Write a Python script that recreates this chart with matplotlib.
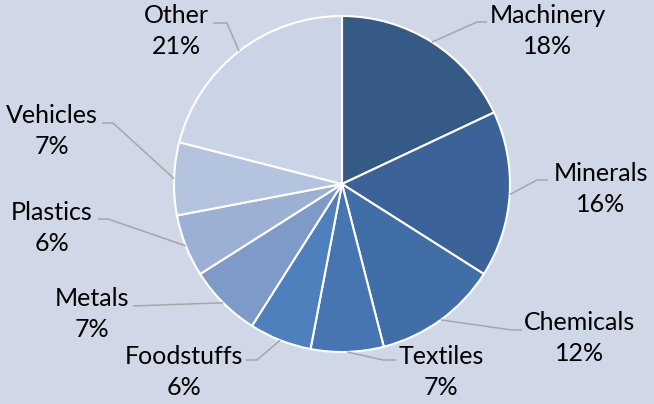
import numpy as np
import matplotlib.pyplot as plt

# export shares by product group
categories = ['Machinery', 'Minerals', 'Chemicals', 'Textiles', 'Foodstuffs',
              'Metals', 'Plastics', 'Vehicles', 'Other']
shares = [18, 16, 12, 7, 6, 7, 6, 7, 21]

colors = ['#345A85', '#3B639A', '#416EA6', '#4775B1', '#4E80BD',
          '#7D9AC8', '#9CB0D4', '#B4C3DE', '#CBD4E6']
bg = '#D0D8E8'

W, H = 654, 404
CX, CY, R = 342, 184, 168


def px(x, y):
    # pixel position -> data coords (pie radius 1, centred at origin)
    return (x - CX) / R, (CY - y) / R


# label block centres and leader elbow/end points, in pixels
label_pos = [(548, 31), (601, 189), (580, 338), (441, 372), (184, 372),
             (92, 314), (52, 228), (52, 131), (176, 31)]
leaders = [
    [(477, 22), (487, 22)],
    [(537, 180), (548, 180)],
    [(512, 330), (522, 330)],
    [(383, 360), (396, 360)],
    [(257, 360), (246, 360)],
    [(133, 306)],
    [(108, 219), (98, 219)],
    [(113, 123), (102, 123)],
    [(227, 23), (213, 23)],
]

fig = plt.figure(figsize=(W / 100, H / 100), dpi=100)
fig.patch.set_facecolor(bg)
ax = fig.add_axes([0, 0, 1, 1])
ax.set_facecolor(bg)

wedges, _ = ax.pie(shares, colors=colors, startangle=90, counterclock=False,
                   radius=1, wedgeprops=dict(edgecolor='white', linewidth=1.5))

ax.set_xlim(-CX / R, (W - CX) / R)
ax.set_ylim((CY - H) / R, CY / R)
ax.set_aspect('equal')
ax.axis('off')

for w, name, v, pos, pts in zip(wedges, categories, shares, label_pos, leaders):
    mid = np.deg2rad((w.theta1 + w.theta2) / 2)
    xs = [np.cos(mid)] + [px(*p)[0] for p in pts]
    ys = [np.sin(mid)] + [px(*p)[1] for p in pts]
    ax.plot(xs, ys, color='#A6A6A6', lw=1.1, solid_capstyle='butt')
    tx, ty = px(*pos)
    ax.text(tx, ty, f'{name}\n{v}%', ha='center', va='center',
            fontsize=18, family='Lato', color='#000000', linespacing=1.45)

fig.savefig('out.png', dpi=100, facecolor=bg)
